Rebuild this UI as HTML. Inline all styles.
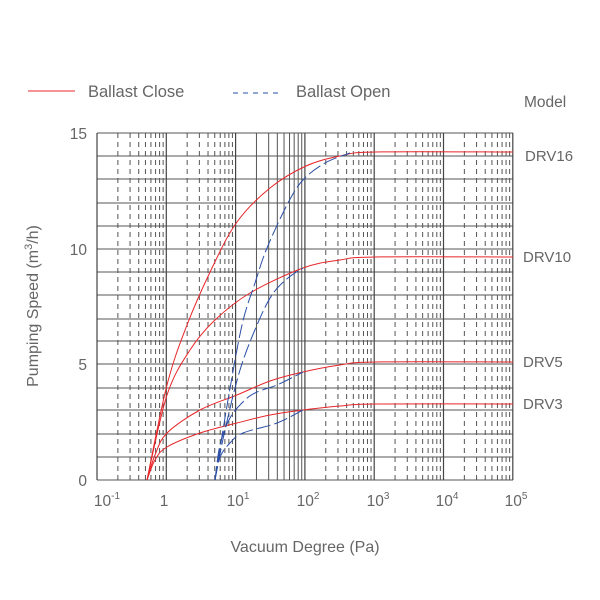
<!DOCTYPE html>
<html><head><meta charset="utf-8"><style>
html,body{margin:0;padding:0;background:#fff;width:600px;height:600px;overflow:hidden}
svg text{font-family:"Liberation Sans",sans-serif;fill:#666}
</style></head><body>
<svg id="s" width="600" height="600" xmlns="http://www.w3.org/2000/svg">
<g id="grid"></g>
<g id="curves" fill="none"></g>
<line x1="28" y1="91" x2="75" y2="91" stroke="#e8262a" stroke-width="1"/>
<text x="88" y="97" font-size="16.5">Ballast Close</text>
<line x1="233" y1="93" x2="280" y2="93" stroke="#2a4ea6" stroke-width="1" stroke-dasharray="5,5"/>
<text x="296" y="97" font-size="16.5">Ballast Open</text>
<text x="524" y="107" font-size="15.5">Model</text>
<text x="525" y="161" font-size="15" fill="#555">DRV16</text>
<text x="523" y="262" font-size="15" fill="#555">DRV10</text>
<text x="523" y="367" font-size="15" fill="#555">DRV5</text>
<text x="523" y="409" font-size="15" fill="#555">DRV3</text>
<g font-size="15.5" text-anchor="end">
<text x="87" y="139">15</text><text x="87" y="255">10</text><text x="87" y="370">5</text><text x="87" y="486">0</text>
</g>
<g font-size="15.5" text-anchor="middle">
<text x="107" y="506">10<tspan font-size="10" dy="-7">-1</tspan></text>
<text x="164" y="506">1</text>
<text x="238" y="506">10<tspan font-size="10" dy="-7">1</tspan></text>
<text x="308" y="506">10<tspan font-size="10" dy="-7">2</tspan></text>
<text x="378" y="506">10<tspan font-size="10" dy="-7">3</tspan></text>
<text x="447" y="506">10<tspan font-size="10" dy="-7">4</tspan></text>
<text x="516" y="506">10<tspan font-size="10" dy="-7">5</tspan></text>
</g>
<text x="305" y="552" font-size="16" text-anchor="middle">Vacuum Degree (Pa)</text>
<text transform="translate(38,306) rotate(-90)" font-size="16" text-anchor="middle">Pumping Speed (m<tspan font-size="11" dy="-6">3</tspan><tspan dy="6">/h)</tspan></text>
</svg>
<script>
var NS="http://www.w3.org/2000/svg",g=document.getElementById('grid'),c=document.getElementById('curves');
function L(p,a){var e=document.createElementNS(NS,'line');for(var k in a)e.setAttribute(k,a[k]);p.appendChild(e);return e;}
function X(v){return 97+(Math.log10(v)+1)*69.3;}
var hy=[133,156,179,203,226,249,272,295,319,341,364,388,410,434,457,480];
hy.forEach(function(y){L(g,{x1:97,x2:513,y1:y,y2:y,stroke:'#555','stroke-width':1});});
for(var d=-1;d<=5;d++){var x=X(Math.pow(10,d));L(g,{x1:x,x2:x,y1:133,y2:480,stroke:'#444','stroke-width':1.2});
 if(d<5)for(var m=2;m<=9;m++){var xx=X(m*Math.pow(10,d));var a={x1:xx,x2:xx,y1:133,y2:480,stroke:'#555','stroke-width':1};if(d!==1)a['stroke-dasharray']='5,4';L(g,a);}}
function path(pts,col,dash){var s='M'+pts[0][0]+','+pts[0][1];
 for(var i=0;i<pts.length-1;i++){var p0=pts[i-1]||pts[i],p1=pts[i],p2=pts[i+1],p3=pts[i+2]||p2;
 s+=' C'+(p1[0]+(p2[0]-p0[0])/6)+','+(p1[1]+(p2[1]-p0[1])/6)+' '+(p2[0]-(p3[0]-p1[0])/6)+','+(p2[1]-(p3[1]-p1[1])/6)+' '+p2[0]+','+p2[1];}
 var e=document.createElementNS(NS,'path');e.setAttribute('d',s);e.setAttribute('stroke',col);e.setAttribute('stroke-width',1);if(dash)e.setAttribute('stroke-dasharray',dash);c.appendChild(e);}
var R='#e8262a',B='#2a4ea6';
path([[147,480],[167,385],[187,325],[212,268],[237,222],[270,188],[306,166],[340,156],[375,152],[513,152]],R);
path([[147,480],[167,395],[190,350],[215,320],[250,293],[303,268],[340,260],[375,257],[513,257]],R);
path([[147,480],[155,455],[167,433],[200,410],[237,395],[270,381],[303,372],[340,365],[375,362],[513,362]],R);
path([[147,480],[155,460],[167,447],[200,433],[237,423],[270,415],[303,410],[340,406],[375,404],[513,404]],R);
path([[215,480],[228,400],[242,325],[255,283],[267,248],[288,203],[303,180],[325,163],[350,153]],B,'14,4');
path([[215,480],[225,430],[240,370],[257,325],[272,295],[288,278],[303,268]],B,'14,4');
path([[215,480],[220,445],[230,418],[245,400],[257,392],[277,385],[303,372]],B,'14,4');
path([[215,480],[220,457],[230,443],[243,433],[277,423],[303,410]],B,'14,4');
</script>
</body></html>
